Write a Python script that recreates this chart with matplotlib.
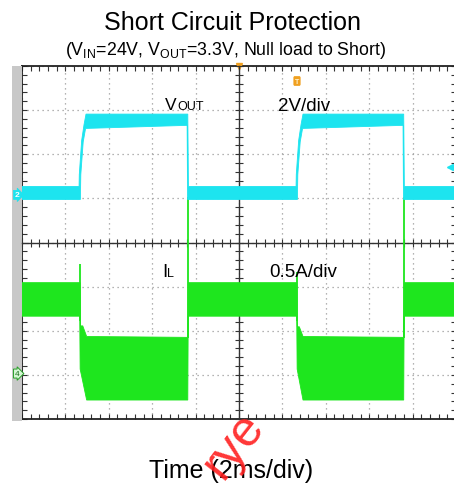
import matplotlib
matplotlib.use("Agg")
import matplotlib.pyplot as plt
from matplotlib.ticker import MultipleLocator, NullFormatter

plt.rcParams['font.family'] = ['Liberation Sans', 'DejaVu Sans']

W, H = 454, 489

# ---------------- data ----------------
time_per_div_ms = 2.0
n_xdiv = 10
vout_per_div = 2.0        # V/div
il_per_div = 0.5          # A/div
vout_gnd_div = 1.08       # position of Vout ground marker (divisions above centre)
il_gnd_div = -2.97        # position of IL ground marker

# Vout trace envelope (ms, V)
vout_up_t = [0, 2.63, 2.64, 2.75, 2.86, 2.95, 7.64, 7.67, 12.63, 12.64, 12.75, 12.86, 12.95, 17.59, 17.62, 20.3]
vout_up_v = [0.38, 0.38, 0.92, 2.47, 3.19, 3.66, 3.66, 0.38, 0.38, 0.92, 2.47, 3.19, 3.66, 3.66, 0.38, 0.38]
vout_lo_t = [0, 2.69, 2.71, 2.82, 2.93, 7.61, 7.63, 12.69, 12.71, 12.82, 12.93, 17.56, 17.58, 20.3]
vout_lo_v = [-0.21, -0.21, 0.92, 2.40, 3.01, 3.15, -0.21, -0.21, 0.92, 2.40, 3.01, 3.15, -0.21, -0.21]

# IL trace envelope (ms, A)
il_up_t = [0, 2.62, 2.68, 2.70, 2.80, 2.98, 7.64, 7.66, 12.62, 12.67, 12.69, 12.78, 12.95, 17.59, 17.61, 20.3]
il_up_a = [1.03, 1.03, 1.03, 0.54, 0.54, 0.42, 0.41, 1.03, 1.03, 1.03, 0.53, 0.53, 0.42, 0.41, 1.03, 1.03]
il_lo_t = [0, 2.66, 2.68, 2.98, 7.64, 7.66, 12.66, 12.68, 12.95, 17.59, 17.61, 20.3]
il_lo_a = [0.65, 0.65, 0.05, -0.30, -0.30, 0.65, 0.65, 0.05, -0.30, -0.30, 0.65, 0.65]

# IL transition spikes (ms, A)
il_spike_t = [2.665, 7.65, 12.66, 17.60]
il_spike_lo = [0.60, 0.40, 0.60, 0.40]
il_spike_hi = [1.24, 2.00, 1.15, 2.00]

trig_level_v = 1.24

title = "Short Circuit Protection"
subtitle = r"(V$_{\mathregular{IN}}$=24V, V$_{\mathregular{OUT}}$=3.3V, Null load to Short)"
xlabel = "Time (2ms/div)"

CYAN = "#1de4ef"
GREEN = "#1ee61e"
ORANGE = "#f0a020"

# ---------------- figure ----------------
fig = plt.figure(figsize=(W / 100, H / 100), dpi=100)
fig.patch.set_facecolor("white")

def fx(px):
    return px / W

def fy(py):
    return 1 - py / H

left_px, right_px, top_px, bot_px = 22, 456, 67, 420
pos = [fx(left_px), fy(bot_px), (right_px - left_px) / W, (bot_px - top_px) / H]

# grey strip on the left
fig.patches.append(plt.Rectangle((fx(12), fy(bot_px + 2)), fx(10), (bot_px + 2 - top_px) / H,
                                 transform=fig.transFigure, facecolor="#c8c8c8", edgecolor="none", zorder=0))

# graticule axes
gax = fig.add_axes(pos, zorder=0)
gax.set_facecolor("white")
gax.set_xlim(0, n_xdiv)
gax.set_ylim(-4, 4)
gax.xaxis.set_major_locator(MultipleLocator(1))
gax.yaxis.set_major_locator(MultipleLocator(1))
gax.xaxis.set_minor_locator(MultipleLocator(0.2))
gax.yaxis.set_minor_locator(MultipleLocator(0.2))
gax.xaxis.set_major_formatter(NullFormatter())
gax.yaxis.set_major_formatter(NullFormatter())
gax.tick_params(which="both", direction="in", length=3.5, width=0.8, color="#333333",
                top=True, right=True, labelbottom=False, labelleft=False)
gax.grid(True, which="major", ls=(0, (1, 3)), color="#9a9a9a", lw=0.9)
for s in gax.spines.values():
    s.set_color("#222222")
    s.set_linewidth(1.3)

# centre cross-hair axes
cax = fig.add_axes(pos, zorder=0.5)
cax.set_facecolor("none")
cax.set_xlim(0, n_xdiv)
cax.set_ylim(-4, 4)
cax.spines["left"].set_position(("data", n_xdiv / 2))
cax.spines["bottom"].set_position(("data", 0))
cax.spines["top"].set_visible(False)
cax.spines["right"].set_visible(False)
for s in ("left", "bottom"):
    cax.spines[s].set_color("#333333")
    cax.spines[s].set_linewidth(1.0)
cax.xaxis.set_major_locator(MultipleLocator(1))
cax.yaxis.set_major_locator(MultipleLocator(1))
cax.xaxis.set_minor_locator(MultipleLocator(0.2))
cax.yaxis.set_minor_locator(MultipleLocator(0.2))
cax.tick_params(which="both", direction="inout", length=6, width=0.8, color="#333333",
                labelbottom=False, labelleft=False)

# IL axes
iax = fig.add_axes(pos, zorder=1)
iax.set_facecolor("none")
iax.set_xlim(0, n_xdiv * time_per_div_ms)
iax.set_ylim((-4 - il_gnd_div) * il_per_div, (4 - il_gnd_div) * il_per_div)
iax.axis("off")
poly_t = list(il_up_t) + list(il_lo_t)[::-1]
poly_a = list(il_up_a) + list(il_lo_a)[::-1]
iax.fill(poly_t, poly_a, color=GREEN, lw=0.6, ec=GREEN, clip_on=True)
iax.vlines(il_spike_t, il_spike_lo, il_spike_hi, colors=GREEN, lw=1.3)

# Vout axes
vax = fig.add_axes(pos, zorder=2)
vax.set_facecolor("none")
vax.set_xlim(0, n_xdiv * time_per_div_ms)
vax.set_ylim((-4 - vout_gnd_div) * vout_per_div, (4 - vout_gnd_div) * vout_per_div)
vax.axis("off")
poly_t = list(vout_up_t) + list(vout_lo_t)[::-1]
poly_v = list(vout_up_v) + list(vout_lo_v)[::-1]
vax.fill(poly_t, poly_v, color=CYAN, lw=0.6, ec=CYAN, clip_on=True)

# ground markers
vax.text(-0.012, 0, "2", transform=vax.get_yaxis_transform(), ha="center", va="center",
         fontsize=6, color="white", fontweight="bold", clip_on=False,
         bbox=dict(boxstyle="rarrow,pad=0.12", fc=CYAN, ec=CYAN, lw=0.5))
iax.text(-0.012, 0, "4", transform=iax.get_yaxis_transform(), ha="center", va="center",
         fontsize=6, color="#1c6e1c", clip_on=False,
         bbox=dict(boxstyle="rarrow,pad=0.12", fc="#d4f7d4", ec="#2aa02a", lw=0.7))
# trigger level marker (right)
vax.plot([0.987], [trig_level_v], marker="<", ms=5, color=CYAN,
         transform=vax.get_yaxis_transform(), clip_on=False)
# trigger position marker (top)
gax.plot([n_xdiv / 2], [4], marker="v", ms=5, color=ORANGE, clip_on=False, zorder=5)
fig.text(fx(297), fy(82), "T", ha="center", va="center", fontsize=5, color="#fff4d0",
         fontweight="bold",
         bbox=dict(boxstyle="round,pad=0.15", fc=ORANGE, ec=ORANGE, lw=0.5))

# ---------------- texts ----------------
fig.text(fx(232), fy(30), title, ha="center", va="baseline", fontsize=18, color="black")
fig.text(fx(226), fy(55), subtitle, ha="center", va="baseline", fontsize=12.8, color="black")
fig.text(fx(231), fy(478), xlabel, ha="center", va="baseline", fontsize=18, color="black")

fig.text(fx(165), fy(110), "V", ha="left", va="baseline", fontsize=12.5)
fig.text(fx(177), fy(110), "OUT", ha="left", va="baseline", fontsize=9)
fig.text(fx(278), fy(111), "2V/div", ha="left", va="baseline", fontsize=13.5)
fig.text(fx(162), fy(277), "I", ha="left", va="baseline", fontsize=13.5)
fig.text(fx(167), fy(277), "L", ha="left", va="baseline", fontsize=9)
fig.text(fx(269), fy(277), "0.5A/div", ha="left", va="baseline", fontsize=13.5)

# watermark
fig.text(fx(234), fy(446), "rye", ha="center", va="center", rotation=52, fontsize=36,
         color="#ff2020", alpha=0.9, zorder=10)

fig.savefig("out.png", dpi=100)
